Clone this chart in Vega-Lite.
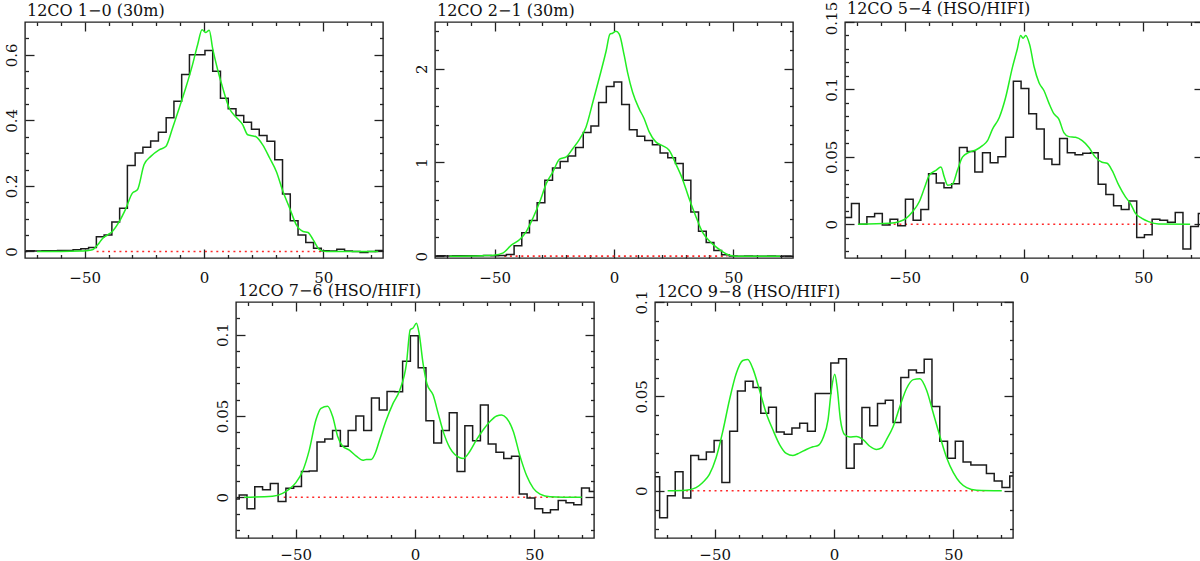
{
"$schema": "https://vega.github.io/schema/vega-lite/v6.json",
"padding": {"left": 3, "top": 0, "right": 0, "bottom": 0},
"config": {
  "view": {"stroke": "#222", "strokeWidth": 1.4},
  "axis": {"labelFont": "DejaVu Serif", "labelFontSize": 15, "labelColor": "#111", "tickColor": "#222", "tickWidth": 1.3, "domain": false, "grid": false, "labelFlush": false, "labelOverlap": false},
  "title": {"font": "DejaVu Serif", "fontSize": 16, "fontWeight": "normal", "color": "#111", "anchor": "start", "frame": "group", "baseline": "alphabetic"}
},
"datasets": {
  "zero": [
    {"panel": 1, "from": -45, "to": 49},
    {"panel": 2, "from": -46, "to": 47.5},
    {"panel": 3, "from": -57, "to": 54},
    {"panel": 4, "from": -55, "to": 69},
    {"panel": 5, "from": -62, "to": 64}
  ],
  "hist": [
    {"panel":1,"v":-75.975,"t":0.0},{"panel":1,"v":-72.725,"t":0.002},{"panel":1,"v":-69.475,"t":0.001},{"panel":1,"v":-66.225,"t":0.002},{"panel":1,"v":-62.975,"t":0.002},{"panel":1,"v":-59.725,"t":0.003},{"panel":1,"v":-56.475,"t":0.003},{"panel":1,"v":-53.225,"t":0.005},{"panel":1,"v":-49.975,"t":0.008},{"panel":1,"v":-46.725,"t":0.012},{"panel":1,"v":-43.475,"t":0.045},{"panel":1,"v":-40.225,"t":0.05},{"panel":1,"v":-36.975,"t":0.09},{"panel":1,"v":-33.725,"t":0.132},{"panel":1,"v":-30.475,"t":0.262},{"panel":1,"v":-27.225,"t":0.3},{"panel":1,"v":-23.975,"t":0.318},{"panel":1,"v":-20.725,"t":0.337},{"panel":1,"v":-17.475,"t":0.364},{"panel":1,"v":-14.225,"t":0.408},{"panel":1,"v":-10.975,"t":0.458},{"panel":1,"v":-7.725,"t":0.54},{"panel":1,"v":-4.475,"t":0.6},{"panel":1,"v":-1.225,"t":0.6},{"panel":1,"v":2.025,"t":0.613},{"panel":1,"v":5.275,"t":0.55},{"panel":1,"v":8.525,"t":0.467},{"panel":1,"v":11.775,"t":0.435},{"panel":1,"v":15.025,"t":0.415},{"panel":1,"v":18.275,"t":0.394},{"panel":1,"v":21.525,"t":0.373},{"panel":1,"v":24.775,"t":0.354},{"panel":1,"v":28.025,"t":0.336},{"panel":1,"v":31.275,"t":0.28},{"panel":1,"v":34.525,"t":0.175},{"panel":1,"v":37.775,"t":0.094},{"panel":1,"v":41.025,"t":0.05},{"panel":1,"v":44.275,"t":0.027},{"panel":1,"v":47.525,"t":0.01},{"panel":1,"v":50.775,"t":0.002},{"panel":1,"v":54.025,"t":0.001},{"panel":1,"v":57.275,"t":0.007},{"panel":1,"v":60.525,"t":0.001},{"panel":1,"v":63.775,"t":0.0},{"panel":1,"v":67.025,"t":-0.003},{"panel":1,"v":70.275,"t":0.0},{"panel":1,"v":73.525,"t":0.003},{"panel":1,"v":76.775,"t":0.003},

    {"panel":2,"v":-75.67,"t":0.002},{"panel":2,"v":-72.45,"t":0.003},{"panel":2,"v":-69.23,"t":0.002},{"panel":2,"v":-66.01,"t":0.004},{"panel":2,"v":-62.79,"t":0.003},{"panel":2,"v":-59.57,"t":0.005},{"panel":2,"v":-56.35,"t":0.004},{"panel":2,"v":-53.13,"t":0.006},{"panel":2,"v":-49.91,"t":0.005},{"panel":2,"v":-46.69,"t":0.006},{"panel":2,"v":-43.47,"t":0.018},{"panel":2,"v":-40.25,"t":0.11},{"panel":2,"v":-37.03,"t":0.25},{"panel":2,"v":-33.81,"t":0.38},{"panel":2,"v":-30.59,"t":0.57},{"panel":2,"v":-27.37,"t":0.81},{"panel":2,"v":-24.15,"t":0.94},{"panel":2,"v":-20.93,"t":1.01},{"panel":2,"v":-17.71,"t":1.07},{"panel":2,"v":-14.49,"t":1.16},{"panel":2,"v":-11.27,"t":1.32},{"panel":2,"v":-8.05,"t":1.39},{"panel":2,"v":-4.83,"t":1.64},{"panel":2,"v":-1.61,"t":1.81},{"panel":2,"v":1.61,"t":1.86},{"panel":2,"v":4.83,"t":1.62},{"panel":2,"v":8.05,"t":1.35},{"panel":2,"v":11.27,"t":1.28},{"panel":2,"v":14.49,"t":1.235},{"panel":2,"v":17.71,"t":1.19},{"panel":2,"v":20.93,"t":1.1},{"panel":2,"v":24.15,"t":1.05},{"panel":2,"v":27.37,"t":0.99},{"panel":2,"v":30.59,"t":0.81},{"panel":2,"v":33.81,"t":0.47},{"panel":2,"v":37.03,"t":0.265},{"panel":2,"v":40.25,"t":0.145},{"panel":2,"v":43.47,"t":0.06},{"panel":2,"v":46.69,"t":0.014},{"panel":2,"v":49.91,"t":0.002},{"panel":2,"v":53.13,"t":0.0},{"panel":2,"v":56.35,"t":0.001},{"panel":2,"v":59.57,"t":0.0},{"panel":2,"v":62.79,"t":0.0},{"panel":2,"v":66.01,"t":0.002},{"panel":2,"v":69.23,"t":0.0},{"panel":2,"v":72.45,"t":0.001},{"panel":2,"v":75.67,"t":0.0},

    {"panel":3,"v":-77.13,"t":0.005},{"panel":3,"v":-73.9,"t":0.005},{"panel":3,"v":-70.67,"t":0.0155},{"panel":3,"v":-67.44,"t":0.0},{"panel":3,"v":-64.21,"t":0.0056},{"panel":3,"v":-60.98,"t":0.008},{"panel":3,"v":-57.75,"t":-0.0005},{"panel":3,"v":-54.52,"t":0.0037},{"panel":3,"v":-51.29,"t":-0.001},{"panel":3,"v":-48.06,"t":0.0186},{"panel":3,"v":-44.83,"t":0.003},{"panel":3,"v":-41.6,"t":0.011},{"panel":3,"v":-38.37,"t":0.0375},{"panel":3,"v":-35.14,"t":0.0306},{"panel":3,"v":-31.91,"t":0.027},{"panel":3,"v":-28.68,"t":0.03},{"panel":3,"v":-25.45,"t":0.057},{"panel":3,"v":-22.22,"t":0.054},{"panel":3,"v":-18.99,"t":0.0387},{"panel":3,"v":-15.76,"t":0.053},{"panel":3,"v":-12.53,"t":0.0456},{"panel":3,"v":-9.3,"t":0.05},{"panel":3,"v":-6.07,"t":0.0645},{"panel":3,"v":-2.84,"t":0.106},{"panel":3,"v":0.39,"t":0.1007},{"panel":3,"v":3.62,"t":0.082},{"panel":3,"v":6.85,"t":0.0706},{"panel":3,"v":10.08,"t":0.0485},{"panel":3,"v":13.31,"t":0.0444},{"panel":3,"v":16.54,"t":0.0637},{"panel":3,"v":19.77,"t":0.053},{"panel":3,"v":23.0,"t":0.0515},{"panel":3,"v":26.23,"t":0.0527},{"panel":3,"v":29.46,"t":0.053},{"panel":3,"v":32.69,"t":0.0297},{"panel":3,"v":35.92,"t":0.022},{"panel":3,"v":39.15,"t":0.0137},{"panel":3,"v":42.38,"t":0.011},{"panel":3,"v":45.61,"t":0.0172},{"panel":3,"v":48.84,"t":-0.0098},{"panel":3,"v":52.07,"t":-0.0078},{"panel":3,"v":55.3,"t":0.0037},{"panel":3,"v":58.53,"t":0.003},{"panel":3,"v":61.76,"t":0.0015},{"panel":3,"v":64.99,"t":0.0088},{"panel":3,"v":68.22,"t":-0.0184},{"panel":3,"v":71.45,"t":-0.0017},{"panel":3,"v":74.68,"t":0.008},{"panel":3,"v":77.91,"t":0.008},

    {"panel":4,"v":-75.28,"t":-0.001},{"panel":4,"v":-72.02,"t":0.0014},{"panel":4,"v":-68.76,"t":-0.007},{"panel":4,"v":-65.5,"t":0.0065},{"panel":4,"v":-62.24,"t":0.0047},{"panel":4,"v":-58.98,"t":0.0085},{"panel":4,"v":-55.72,"t":-0.0026},{"panel":4,"v":-52.46,"t":0.0055},{"panel":4,"v":-49.2,"t":0.0067},{"panel":4,"v":-45.94,"t":0.0158},{"panel":4,"v":-42.68,"t":0.0162},{"panel":4,"v":-39.42,"t":0.034},{"panel":4,"v":-36.16,"t":0.0358},{"panel":4,"v":-32.9,"t":0.041},{"panel":4,"v":-29.64,"t":0.0314},{"panel":4,"v":-26.38,"t":0.041},{"panel":4,"v":-23.12,"t":0.05},{"panel":4,"v":-19.86,"t":0.041},{"panel":4,"v":-16.6,"t":0.061},{"panel":4,"v":-13.34,"t":0.0536},{"panel":4,"v":-10.08,"t":0.065},{"panel":4,"v":-6.82,"t":0.0648},{"panel":4,"v":-3.56,"t":0.0836},{"panel":4,"v":-0.3,"t":0.0992},{"panel":4,"v":2.96,"t":0.0796},{"panel":4,"v":6.22,"t":0.047},{"panel":4,"v":9.48,"t":0.0334},{"panel":4,"v":12.74,"t":0.041},{"panel":4,"v":16.0,"t":0.052},{"panel":4,"v":19.26,"t":0.0158},{"panel":4,"v":22.52,"t":0.044},{"panel":4,"v":25.78,"t":0.0348},{"panel":4,"v":29.04,"t":0.0567},{"panel":4,"v":32.3,"t":0.0328},{"panel":4,"v":35.56,"t":0.0277},{"panel":4,"v":38.82,"t":0.0239},{"panel":4,"v":42.08,"t":0.0253},{"panel":4,"v":45.34,"t":0.002},{"panel":4,"v":48.6,"t":-0.0004},{"panel":4,"v":51.86,"t":-0.007},{"panel":4,"v":55.12,"t":-0.0095},{"panel":4,"v":58.38,"t":-0.0077},{"panel":4,"v":61.64,"t":-0.002},{"panel":4,"v":64.9,"t":-0.0034},{"panel":4,"v":68.16,"t":-0.0045},{"panel":4,"v":71.42,"t":0.0057},{"panel":4,"v":74.68,"t":0.0036},{"panel":4,"v":77.94,"t":0.0036},

    {"panel":5,"v":-77.94,"t":0.0075},{"panel":5,"v":-74.68,"t":0.0075},{"panel":5,"v":-71.42,"t":-0.0143},{"panel":5,"v":-68.16,"t":-0.0026},{"panel":5,"v":-64.9,"t":0.0101},{"panel":5,"v":-61.64,"t":-0.0038},{"panel":5,"v":-58.38,"t":0.0187},{"panel":5,"v":-55.12,"t":0.0166},{"panel":5,"v":-51.86,"t":0.0205},{"panel":5,"v":-48.6,"t":0.0267},{"panel":5,"v":-45.34,"t":0.0044},{"panel":5,"v":-42.08,"t":0.0315},{"panel":5,"v":-38.82,"t":0.0528},{"panel":5,"v":-35.56,"t":0.058},{"panel":5,"v":-32.3,"t":0.0547},{"panel":5,"v":-29.04,"t":0.0411},{"panel":5,"v":-25.78,"t":0.0442},{"panel":5,"v":-22.52,"t":0.0311},{"panel":5,"v":-19.26,"t":0.03},{"panel":5,"v":-16.0,"t":0.0332},{"panel":5,"v":-12.74,"t":0.0358},{"panel":5,"v":-9.48,"t":0.0315},{"panel":5,"v":-6.22,"t":0.0516},{"panel":5,"v":-2.96,"t":0.0516},{"panel":5,"v":0.3,"t":0.0677},{"panel":5,"v":3.56,"t":0.07},{"panel":5,"v":6.82,"t":0.0119},{"panel":5,"v":10.08,"t":0.0248},{"panel":5,"v":13.34,"t":0.0441},{"panel":5,"v":16.6,"t":0.0344},{"panel":5,"v":19.86,"t":0.0463},{"panel":5,"v":23.12,"t":0.048},{"panel":5,"v":26.38,"t":0.0362},{"panel":5,"v":29.64,"t":0.06},{"panel":5,"v":32.9,"t":0.064},{"panel":5,"v":36.16,"t":0.0625},{"panel":5,"v":39.42,"t":0.0697},{"panel":5,"v":42.68,"t":0.0446},{"panel":5,"v":45.94,"t":0.0263},{"panel":5,"v":49.2,"t":0.0172},{"panel":5,"v":52.46,"t":0.0263},{"panel":5,"v":55.72,"t":0.0152},{"panel":5,"v":58.98,"t":0.0137},{"panel":5,"v":62.24,"t":0.0137},{"panel":5,"v":65.5,"t":0.0091},{"panel":5,"v":68.76,"t":0.0052},{"panel":5,"v":72.02,"t":0.0017},{"panel":5,"v":75.28,"t":0.0079}
  ],
  "model": [
    {"panel":1,"v":-70,"t":0},{"panel":1,"v":-60,"t":0},{"panel":1,"v":-52,"t":0.001},{"panel":1,"v":-49.6,"t":0.002},{"panel":1,"v":-46.8,"t":0.005},{"panel":1,"v":-44,"t":0.025},{"panel":1,"v":-42.6,"t":0.039},{"panel":1,"v":-40.5,"t":0.05},{"panel":1,"v":-38.4,"t":0.061},{"panel":1,"v":-35.6,"t":0.09},{"panel":1,"v":-32.8,"t":0.13},{"panel":1,"v":-30,"t":0.178},{"panel":1,"v":-27.9,"t":0.188},{"panel":1,"v":-25.1,"t":0.265},{"panel":1,"v":-22.3,"t":0.29},{"panel":1,"v":-18.8,"t":0.31},{"panel":1,"v":-16,"t":0.32},{"panel":1,"v":-13.2,"t":0.376},{"panel":1,"v":-10.4,"t":0.437},{"panel":1,"v":-7.6,"t":0.5},{"panel":1,"v":-4.8,"t":0.57},{"panel":1,"v":-2.7,"t":0.63},{"panel":1,"v":-0.8,"t":0.676},{"panel":1,"v":0.8,"t":0.668},{"panel":1,"v":2.2,"t":0.675},{"panel":1,"v":3.6,"t":0.62},{"panel":1,"v":5.7,"t":0.555},{"panel":1,"v":7.8,"t":0.5},{"panel":1,"v":10.6,"t":0.437},{"panel":1,"v":13.4,"t":0.41},{"panel":1,"v":16.2,"t":0.387},{"panel":1,"v":18.3,"t":0.356},{"panel":1,"v":21.8,"t":0.35},{"panel":1,"v":24.6,"t":0.325},{"panel":1,"v":27.5,"t":0.285},{"panel":1,"v":30.3,"t":0.244},{"panel":1,"v":33.1,"t":0.183},{"panel":1,"v":35.9,"t":0.132},{"panel":1,"v":38.7,"t":0.081},{"panel":1,"v":41.5,"t":0.061},{"panel":1,"v":43.6,"t":0.058},{"panel":1,"v":45.7,"t":0.036},{"panel":1,"v":48.5,"t":0.005},{"panel":1,"v":51.3,"t":0},{"panel":1,"v":60,"t":0},{"panel":1,"v":73,"t":0},

    {"panel":2,"v":-69,"t":0},{"panel":2,"v":-55,"t":0.005},{"panel":2,"v":-50.5,"t":0.01},{"panel":2,"v":-46.4,"t":0.035},{"panel":2,"v":-42.9,"t":0.12},{"panel":2,"v":-39.4,"t":0.18},{"panel":2,"v":-36.7,"t":0.265},{"panel":2,"v":-33.9,"t":0.41},{"panel":2,"v":-31.1,"t":0.58},{"panel":2,"v":-28.3,"t":0.78},{"panel":2,"v":-25.6,"t":0.9},{"panel":2,"v":-22.8,"t":1.035},{"panel":2,"v":-20,"t":1.06},{"panel":2,"v":-17.2,"t":1.15},{"panel":2,"v":-14.4,"t":1.25},{"panel":2,"v":-11.7,"t":1.38},{"panel":2,"v":-8.9,"t":1.64},{"panel":2,"v":-6.1,"t":1.91},{"panel":2,"v":-3.3,"t":2.19},{"panel":2,"v":-1.7,"t":2.37},{"panel":2,"v":-0.6,"t":2.38},{"panel":2,"v":0.8,"t":2.4},{"panel":2,"v":2.2,"t":2.37},{"panel":2,"v":4.3,"t":2.14},{"panel":2,"v":5.7,"t":1.96},{"panel":2,"v":7.8,"t":1.75},{"panel":2,"v":10.6,"t":1.57},{"panel":2,"v":12.6,"t":1.47},{"panel":2,"v":14.7,"t":1.33},{"panel":2,"v":17.5,"t":1.22},{"panel":2,"v":20.3,"t":1.18},{"panel":2,"v":23.1,"t":1.13},{"panel":2,"v":25.8,"t":0.99},{"panel":2,"v":28.6,"t":0.83},{"panel":2,"v":31.4,"t":0.62},{"panel":2,"v":34.5,"t":0.41},{"panel":2,"v":36.9,"t":0.265},{"panel":2,"v":38.3,"t":0.21},{"panel":2,"v":39.7,"t":0.17},{"panel":2,"v":41.7,"t":0.12},{"panel":2,"v":45.2,"t":0.053},{"panel":2,"v":48.1,"t":0.012},{"panel":2,"v":50.8,"t":0},{"panel":2,"v":60,"t":0},{"panel":2,"v":69.6,"t":0},

    {"panel":3,"v":-69.6,"t":0},{"panel":3,"v":-56.4,"t":0.0007},{"panel":3,"v":-52.2,"t":0.002},{"panel":3,"v":-49.4,"t":0.0044},{"panel":3,"v":-46.7,"t":0.0093},{"panel":3,"v":-43.9,"t":0.0167},{"panel":3,"v":-41.8,"t":0.0265},{"panel":3,"v":-39.7,"t":0.0363},{"panel":3,"v":-36.9,"t":0.04},{"panel":3,"v":-34.8,"t":0.0424},{"panel":3,"v":-33.4,"t":0.035},{"panel":3,"v":-32,"t":0.029},{"panel":3,"v":-29.9,"t":0.03},{"panel":3,"v":-27.9,"t":0.04},{"panel":3,"v":-25.8,"t":0.0498},{"panel":3,"v":-23,"t":0.0534},{"panel":3,"v":-20.2,"t":0.0551},{"panel":3,"v":-17.4,"t":0.0583},{"panel":3,"v":-15.3,"t":0.062},{"panel":3,"v":-13.2,"t":0.0706},{"panel":3,"v":-10.4,"t":0.079},{"panel":3,"v":-7.7,"t":0.094},{"panel":3,"v":-4.9,"t":0.116},{"panel":3,"v":-2.8,"t":0.13},{"panel":3,"v":-1.4,"t":0.14},{"panel":3,"v":-0.4,"t":0.138},{"panel":3,"v":0.7,"t":0.14},{"panel":3,"v":2.4,"t":0.133},{"panel":3,"v":4.2,"t":0.117},{"panel":3,"v":6.3,"t":0.105},{"panel":3,"v":8.4,"t":0.099},{"panel":3,"v":10.4,"t":0.09},{"panel":3,"v":12.5,"t":0.082},{"panel":3,"v":14.6,"t":0.078},{"panel":3,"v":16.7,"t":0.068},{"panel":3,"v":18.8,"t":0.065},{"panel":3,"v":21.6,"t":0.0645},{"panel":3,"v":24.4,"t":0.062},{"panel":3,"v":27.2,"t":0.057},{"panel":3,"v":29.9,"t":0.0498},{"panel":3,"v":32.7,"t":0.046},{"panel":3,"v":34.8,"t":0.0453},{"panel":3,"v":36.9,"t":0.04},{"panel":3,"v":39.7,"t":0.029},{"panel":3,"v":42.5,"t":0.0203},{"panel":3,"v":44.6,"t":0.0154},{"panel":3,"v":46.7,"t":0.0081},{"panel":3,"v":49.4,"t":0.0044},{"panel":3,"v":52.2,"t":0.002},{"panel":3,"v":56.4,"t":0.0002},{"panel":3,"v":69.6,"t":0},

    {"panel":4,"v":-71.6,"t":0},{"panel":4,"v":-59.7,"t":0.0006},{"panel":4,"v":-55.5,"t":0.0024},{"panel":4,"v":-52.7,"t":0.005},{"panel":4,"v":-49.9,"t":0.009},{"panel":4,"v":-47.1,"t":0.016},{"panel":4,"v":-44.3,"t":0.029},{"panel":4,"v":-41.5,"t":0.0476},{"panel":4,"v":-39.4,"t":0.0547},{"panel":4,"v":-36.6,"t":0.056},{"panel":4,"v":-34.5,"t":0.0496},{"panel":4,"v":-32.4,"t":0.0374},{"panel":4,"v":-30.3,"t":0.0314},{"panel":4,"v":-27.5,"t":0.029},{"panel":4,"v":-24.6,"t":0.0253},{"panel":4,"v":-21.8,"t":0.0227},{"panel":4,"v":-20.4,"t":0.0233},{"panel":4,"v":-18.3,"t":0.0233},{"panel":4,"v":-16.9,"t":0.0263},{"panel":4,"v":-14.8,"t":0.0354},{"panel":4,"v":-12,"t":0.0476},{"panel":4,"v":-9.2,"t":0.0577},{"panel":4,"v":-6.4,"t":0.0658},{"panel":4,"v":-3.6,"t":0.082},{"panel":4,"v":-2,"t":0.103},{"panel":4,"v":-0.8,"t":0.104},{"panel":4,"v":0.6,"t":0.107},{"panel":4,"v":1.7,"t":0.101},{"panel":4,"v":3.4,"t":0.082},{"panel":4,"v":5,"t":0.0698},{"panel":4,"v":7.6,"t":0.0628},{"panel":4,"v":9.7,"t":0.0516},{"panel":4,"v":11.8,"t":0.0405},{"panel":4,"v":14.6,"t":0.0304},{"panel":4,"v":16.7,"t":0.0263},{"panel":4,"v":18.8,"t":0.0243},{"panel":4,"v":20.2,"t":0.0239},{"panel":4,"v":23,"t":0.0283},{"panel":4,"v":25.8,"t":0.0354},{"panel":4,"v":28.6,"t":0.0415},{"panel":4,"v":31.4,"t":0.0466},{"panel":4,"v":34.2,"t":0.05},{"panel":4,"v":36.3,"t":0.0506},{"panel":4,"v":38.4,"t":0.0486},{"panel":4,"v":41.2,"t":0.0405},{"panel":4,"v":44,"t":0.0253},{"panel":4,"v":46.8,"t":0.0132},{"panel":4,"v":49.6,"t":0.0055},{"panel":4,"v":52.4,"t":0.002},{"panel":4,"v":56.6,"t":0.0004},{"panel":4,"v":69.9,"t":0},

    {"panel":5,"v":-69.7,"t":0},{"panel":5,"v":-62,"t":0.0003},{"panel":5,"v":-57.8,"t":0.0017},{"panel":5,"v":-55,"t":0.0044},{"panel":5,"v":-52.2,"t":0.0087},{"panel":5,"v":-49.4,"t":0.0175},{"panel":5,"v":-46.6,"t":0.0315},{"panel":5,"v":-43.8,"t":0.0481},{"panel":5,"v":-41,"t":0.062},{"panel":5,"v":-38.2,"t":0.069},{"panel":5,"v":-36.1,"t":0.0696},{"panel":5,"v":-34,"t":0.0647},{"panel":5,"v":-31.2,"t":0.0533},{"panel":5,"v":-28.4,"t":0.0411},{"panel":5,"v":-25.6,"t":0.0323},{"panel":5,"v":-22.8,"t":0.0245},{"panel":5,"v":-20,"t":0.0198},{"panel":5,"v":-17.2,"t":0.0187},{"panel":5,"v":-14.4,"t":0.0201},{"panel":5,"v":-11.6,"t":0.0219},{"panel":5,"v":-8.8,"t":0.0233},{"panel":5,"v":-6.7,"t":0.024},{"panel":5,"v":-4.6,"t":0.028},{"panel":5,"v":-2.5,"t":0.0376},{"panel":5,"v":-1.1,"t":0.0533},{"panel":5,"v":0.3,"t":0.0617},{"panel":5,"v":1.3,"t":0.055},{"panel":5,"v":2.7,"t":0.0376},{"panel":5,"v":4.5,"t":0.0297},{"panel":5,"v":6.6,"t":0.0285},{"panel":5,"v":9.4,"t":0.0288},{"panel":5,"v":12.2,"t":0.0271},{"panel":5,"v":15,"t":0.0236},{"panel":5,"v":17.8,"t":0.0219},{"panel":5,"v":19.9,"t":0.0227},{"panel":5,"v":22,"t":0.0271},{"panel":5,"v":24.8,"t":0.0341},{"panel":5,"v":27.6,"t":0.0446},{"panel":5,"v":30.4,"t":0.0542},{"panel":5,"v":33.2,"t":0.0589},{"panel":5,"v":36,"t":0.0594},{"panel":5,"v":38.8,"t":0.0533},{"panel":5,"v":41.6,"t":0.0411},{"panel":5,"v":44.4,"t":0.0288},{"panel":5,"v":47.2,"t":0.0175},{"panel":5,"v":50,"t":0.0096},{"panel":5,"v":52.8,"t":0.0044},{"panel":5,"v":55.6,"t":0.0017},{"panel":5,"v":59.8,"t":0.0003},{"panel":5,"v":70.3,"t":0}
  ]
},
"spacing": -4,
"vconcat": [
  {"spacing": 28, "hconcat": [
    {"width": 358, "height": 236,
     "title": {"text": "12CO 1−0 (30m)", "offset": 2.5, "dx": 2},
     "resolve": {"axis": {"x": "independent", "y": "independent"}},
     "layer": [
      {"data": {"name": "zero"}, "transform": [{"filter": "datum.panel == 1"}], "mark": {"type": "rule", "color": "#ff2a2a", "strokeWidth": 1.6, "strokeDash": [2, 3.7]},
       "encoding": {"x": {"field": "from", "type": "quantitative", "scale": {"domain": [-75, 75], "nice": false, "zero": false}, "axis": {"orient": "top", "values": [-50, 0, 50], "tickSize": -9, "labels": false, "title": null}}, "x2": {"field": "to"},
                    "y": {"datum": 0, "type": "quantitative", "scale": {"domain": [-0.02, 0.7], "nice": false, "zero": false}, "axis": {"orient": "right", "values": [0, 0.2, 0.4, 0.6], "tickSize": -9, "labels": false, "title": null}}}},
      {"data": {"name": "zero"}, "transform": [{"filter": "datum.panel == 1"}], "mark": {"type": "rule", "opacity": 0},
       "encoding": {"x": {"field": "from", "type": "quantitative", "scale": {"domain": [-75, 75], "nice": false, "zero": false}, "axis": {"orient": "top", "values": [-70, -60, -40, -30, -20, -10, 10, 20, 30, 40, 60, 70], "tickSize": -3.5, "labels": false, "title": null}}, "x2": {"field": "to"},
                    "y": {"datum": 0, "type": "quantitative", "scale": {"domain": [-0.02, 0.7], "nice": false, "zero": false}, "axis": {"orient": "right", "values": [0.05, 0.1, 0.15, 0.25, 0.3, 0.35, 0.45, 0.5, 0.55, 0.65], "tickSize": -3.5, "labels": false, "title": null}}}},
      {"data": {"name": "hist"}, "transform": [{"filter": "datum.panel == 1"}], "mark": {"type": "line", "interpolate": "step", "color": "#1c1c1c", "strokeWidth": 1.5, "clip": true},
       "encoding": {"x": {"field": "v", "type": "quantitative", "scale": {"domain": [-75, 75], "nice": false, "zero": false}, "axis": {"orient": "bottom", "values": [-50, 0, 50], "tickSize": -9, "labelPadding": 21, "labelExpr": "format(datum.value, '~r')", "title": null}},
                    "y": {"field": "t", "type": "quantitative", "scale": {"domain": [-0.02, 0.7], "nice": false, "zero": false}, "axis": {"orient": "left", "values": [0, 0.2, 0.4, 0.6], "tickSize": -9, "labelPadding": 18, "labelAngle": 270, "labelAlign": "center", "labelBaseline": "alphabetic", "labelExpr": "format(datum.value, '~r')", "title": null}}}},
      {"data": {"name": "model"}, "transform": [{"filter": "datum.panel == 1"}], "mark": {"type": "line", "interpolate": "monotone", "color": "#22ee22", "strokeWidth": 1.5, "clip": true},
       "encoding": {"x": {"field": "v", "type": "quantitative", "scale": {"domain": [-75, 75], "nice": false, "zero": false}, "axis": {"orient": "bottom", "values": [-70, -60, -40, -30, -20, -10, 10, 20, 30, 40, 60, 70], "tickSize": -3.5, "labels": false, "title": null}},
                    "y": {"field": "t", "type": "quantitative", "scale": {"domain": [-0.02, 0.7], "nice": false, "zero": false}, "axis": {"orient": "left", "values": [0.05, 0.1, 0.15, 0.25, 0.3, 0.35, 0.45, 0.5, 0.55, 0.65], "tickSize": -3.5, "labels": false, "title": null}}}}
     ]},
    {"width": 358, "height": 236,
     "title": {"text": "12CO 2−1 (30m)", "offset": 2.5, "dx": 2},
     "resolve": {"axis": {"x": "independent", "y": "independent"}},
     "layer": [
      {"data": {"name": "zero"}, "transform": [{"filter": "datum.panel == 2"}], "mark": {"type": "rule", "color": "#ff2a2a", "strokeWidth": 1.6, "strokeDash": [2, 3.7]},
       "encoding": {"x": {"field": "from", "type": "quantitative", "scale": {"domain": [-75, 75], "nice": false, "zero": false}, "axis": {"orient": "top", "values": [-50, 0, 50], "tickSize": -9, "labels": false, "title": null}}, "x2": {"field": "to"},
                    "y": {"datum": 0, "type": "quantitative", "scale": {"domain": [-0.02, 2.5], "nice": false, "zero": false}, "axis": {"orient": "right", "values": [0, 1, 2], "tickSize": -9, "labels": false, "title": null}}}},
      {"data": {"name": "zero"}, "transform": [{"filter": "datum.panel == 2"}], "mark": {"type": "rule", "opacity": 0},
       "encoding": {"x": {"field": "from", "type": "quantitative", "scale": {"domain": [-75, 75], "nice": false, "zero": false}, "axis": {"orient": "top", "values": [-70, -60, -40, -30, -20, -10, 10, 20, 30, 40, 60, 70], "tickSize": -3.5, "labels": false, "title": null}}, "x2": {"field": "to"},
                    "y": {"datum": 0, "type": "quantitative", "scale": {"domain": [-0.02, 2.5], "nice": false, "zero": false}, "axis": {"orient": "right", "values": [0.2, 0.4, 0.6, 0.8, 1.2, 1.4, 1.6, 1.8, 2.2, 2.4], "tickSize": -3.5, "labels": false, "title": null}}}},
      {"data": {"name": "hist"}, "transform": [{"filter": "datum.panel == 2"}], "mark": {"type": "line", "interpolate": "step", "color": "#1c1c1c", "strokeWidth": 1.5, "clip": true},
       "encoding": {"x": {"field": "v", "type": "quantitative", "scale": {"domain": [-75, 75], "nice": false, "zero": false}, "axis": {"orient": "bottom", "values": [-50, 0, 50], "tickSize": -9, "labelPadding": 21, "labelExpr": "format(datum.value, '~r')", "title": null}},
                    "y": {"field": "t", "type": "quantitative", "scale": {"domain": [-0.02, 2.5], "nice": false, "zero": false}, "axis": {"orient": "left", "values": [0, 1, 2], "tickSize": -9, "labelPadding": 18, "labelAngle": 270, "labelAlign": "center", "labelBaseline": "alphabetic", "labelExpr": "format(datum.value, '~r')", "title": null}}}},
      {"data": {"name": "model"}, "transform": [{"filter": "datum.panel == 2"}], "mark": {"type": "line", "interpolate": "monotone", "color": "#22ee22", "strokeWidth": 1.5, "clip": true},
       "encoding": {"x": {"field": "v", "type": "quantitative", "scale": {"domain": [-75, 75], "nice": false, "zero": false}, "axis": {"orient": "bottom", "values": [-70, -60, -40, -30, -20, -10, 10, 20, 30, 40, 60, 70], "tickSize": -3.5, "labels": false, "title": null}},
                    "y": {"field": "t", "type": "quantitative", "scale": {"domain": [-0.02, 2.5], "nice": false, "zero": false}, "axis": {"orient": "left", "values": [0.2, 0.4, 0.6, 0.8, 1.2, 1.4, 1.6, 1.8, 2.2, 2.4], "tickSize": -3.5, "labels": false, "title": null}}}}
     ]},
    {"width": 358, "height": 236,
     "title": {"text": "12CO 5−4 (HSO/HIFI)", "offset": -15.5, "dx": 2},
     "resolve": {"axis": {"x": "independent", "y": "independent"}},
     "layer": [
      {"data": {"name": "zero"}, "transform": [{"filter": "datum.panel == 3"}], "mark": {"type": "rule", "color": "#ff2a2a", "strokeWidth": 1.6, "strokeDash": [2, 3.7]},
       "encoding": {"x": {"field": "from", "type": "quantitative", "scale": {"domain": [-75, 75], "nice": false, "zero": false}, "axis": {"orient": "top", "values": [-50, 0, 50], "tickSize": -9, "labels": false, "title": null}}, "x2": {"field": "to"},
                    "y": {"datum": 0, "type": "quantitative", "scale": {"domain": [-0.025, 0.15], "nice": false, "zero": false}, "axis": {"orient": "right", "values": [0, 0.05, 0.1, 0.15], "tickSize": -9, "labels": false, "title": null}}}},
      {"data": {"name": "zero"}, "transform": [{"filter": "datum.panel == 3"}], "mark": {"type": "rule", "opacity": 0},
       "encoding": {"x": {"field": "from", "type": "quantitative", "scale": {"domain": [-75, 75], "nice": false, "zero": false}, "axis": {"orient": "top", "values": [-70, -60, -40, -30, -20, -10, 10, 20, 30, 40, 60, 70], "tickSize": -3.5, "labels": false, "title": null}}, "x2": {"field": "to"},
                    "y": {"datum": 0, "type": "quantitative", "scale": {"domain": [-0.025, 0.15], "nice": false, "zero": false}, "axis": {"orient": "right", "values": [-0.02, -0.01, 0.01, 0.02, 0.03, 0.04, 0.06, 0.07, 0.08, 0.09, 0.11, 0.12, 0.13, 0.14], "tickSize": -3.5, "labels": false, "title": null}}}},
      {"data": {"name": "hist"}, "transform": [{"filter": "datum.panel == 3"}], "mark": {"type": "line", "interpolate": "step", "color": "#1c1c1c", "strokeWidth": 1.5, "clip": true},
       "encoding": {"x": {"field": "v", "type": "quantitative", "scale": {"domain": [-75, 75], "nice": false, "zero": false}, "axis": {"orient": "bottom", "values": [-50, 0, 50], "tickSize": -9, "labelPadding": 21, "labelExpr": "format(datum.value, '~r')", "title": null}},
                    "y": {"field": "t", "type": "quantitative", "scale": {"domain": [-0.025, 0.15], "nice": false, "zero": false}, "axis": {"orient": "left", "values": [0, 0.05, 0.1, 0.15], "tickSize": -9, "labelPadding": 18, "labelAngle": 270, "labelAlign": "center", "labelBaseline": "alphabetic", "labelExpr": "format(datum.value, '~r')", "labelOffset": {"condition": {"test": "datum.value > 0.14", "value": -4}, "value": 0}, "title": null}}}},
      {"data": {"name": "model"}, "transform": [{"filter": "datum.panel == 3"}], "mark": {"type": "line", "interpolate": "monotone", "color": "#22ee22", "strokeWidth": 1.5, "clip": true},
       "encoding": {"x": {"field": "v", "type": "quantitative", "scale": {"domain": [-75, 75], "nice": false, "zero": false}, "axis": {"orient": "bottom", "values": [-70, -60, -40, -30, -20, -10, 10, 20, 30, 40, 60, 70], "tickSize": -3.5, "labels": false, "title": null}},
                    "y": {"field": "t", "type": "quantitative", "scale": {"domain": [-0.025, 0.15], "nice": false, "zero": false}, "axis": {"orient": "left", "values": [-0.02, -0.01, 0.01, 0.02, 0.03, 0.04, 0.06, 0.07, 0.08, 0.09, 0.11, 0.12, 0.13, 0.14], "tickSize": -3.5, "labels": false, "title": null}}}}
     ]}
  ]},
  {"spacing": 37, "hconcat": [
    {"width": 152, "height": 10, "view": {"stroke": null}, "data": {"values": []}, "mark": "point"},
    {"width": 358, "height": 236,
     "title": {"text": "12CO 7−6 (HSO/HIFI)", "offset": 2.5, "dx": 2},
     "resolve": {"axis": {"x": "independent", "y": "independent"}},
     "layer": [
      {"data": {"name": "zero"}, "transform": [{"filter": "datum.panel == 4"}], "mark": {"type": "rule", "color": "#ff2a2a", "strokeWidth": 1.6, "strokeDash": [2, 3.7]},
       "encoding": {"x": {"field": "from", "type": "quantitative", "scale": {"domain": [-75, 75], "nice": false, "zero": false}, "axis": {"orient": "top", "values": [-50, 0, 50], "tickSize": -9, "labels": false, "title": null}}, "x2": {"field": "to"},
                    "y": {"datum": 0, "type": "quantitative", "scale": {"domain": [-0.025, 0.12], "nice": false, "zero": false}, "axis": {"orient": "right", "values": [0, 0.05, 0.1], "tickSize": -9, "labels": false, "title": null}}}},
      {"data": {"name": "zero"}, "transform": [{"filter": "datum.panel == 4"}], "mark": {"type": "rule", "opacity": 0},
       "encoding": {"x": {"field": "from", "type": "quantitative", "scale": {"domain": [-75, 75], "nice": false, "zero": false}, "axis": {"orient": "top", "values": [-70, -60, -40, -30, -20, -10, 10, 20, 30, 40, 60, 70], "tickSize": -3.5, "labels": false, "title": null}}, "x2": {"field": "to"},
                    "y": {"datum": 0, "type": "quantitative", "scale": {"domain": [-0.025, 0.12], "nice": false, "zero": false}, "axis": {"orient": "right", "values": [-0.02, -0.01, 0.01, 0.02, 0.03, 0.04, 0.06, 0.07, 0.08, 0.09, 0.11], "tickSize": -3.5, "labels": false, "title": null}}}},
      {"data": {"name": "hist"}, "transform": [{"filter": "datum.panel == 4"}], "mark": {"type": "line", "interpolate": "step", "color": "#1c1c1c", "strokeWidth": 1.5, "clip": true},
       "encoding": {"x": {"field": "v", "type": "quantitative", "scale": {"domain": [-75, 75], "nice": false, "zero": false}, "axis": {"orient": "bottom", "values": [-50, 0, 50], "tickSize": -9, "labelPadding": 18, "labelExpr": "format(datum.value, '~r')", "title": null}},
                    "y": {"field": "t", "type": "quantitative", "scale": {"domain": [-0.025, 0.12], "nice": false, "zero": false}, "axis": {"orient": "left", "values": [0, 0.05, 0.1], "tickSize": -9, "labelPadding": 18, "labelAngle": 270, "labelAlign": "center", "labelBaseline": "alphabetic", "labelExpr": "format(datum.value, '~r')", "title": null}}}},
      {"data": {"name": "model"}, "transform": [{"filter": "datum.panel == 4"}], "mark": {"type": "line", "interpolate": "monotone", "color": "#22ee22", "strokeWidth": 1.5, "clip": true},
       "encoding": {"x": {"field": "v", "type": "quantitative", "scale": {"domain": [-75, 75], "nice": false, "zero": false}, "axis": {"orient": "bottom", "values": [-70, -60, -40, -30, -20, -10, 10, 20, 30, 40, 60, 70], "tickSize": -3.5, "labels": false, "title": null}},
                    "y": {"field": "t", "type": "quantitative", "scale": {"domain": [-0.025, 0.12], "nice": false, "zero": false}, "axis": {"orient": "left", "values": [-0.02, -0.01, 0.01, 0.02, 0.03, 0.04, 0.06, 0.07, 0.08, 0.09, 0.11], "tickSize": -3.5, "labels": false, "title": null}}}}
     ]},
    {"width": 358, "height": 236,
     "title": {"text": "12CO 9−8 (HSO/HIFI)", "offset": -9.5, "dx": 2},
     "resolve": {"axis": {"x": "independent", "y": "independent"}},
     "layer": [
      {"data": {"name": "zero"}, "transform": [{"filter": "datum.panel == 5"}], "mark": {"type": "rule", "color": "#ff2a2a", "strokeWidth": 1.6, "strokeDash": [2, 3.7]},
       "encoding": {"x": {"field": "from", "type": "quantitative", "scale": {"domain": [-75, 75], "nice": false, "zero": false}, "axis": {"orient": "top", "values": [-50, 0, 50], "tickSize": -9, "labels": false, "title": null}}, "x2": {"field": "to"},
                    "y": {"datum": 0, "type": "quantitative", "scale": {"domain": [-0.025, 0.1], "nice": false, "zero": false}, "axis": {"orient": "right", "values": [0, 0.05, 0.1], "tickSize": -9, "labels": false, "title": null}}}},
      {"data": {"name": "zero"}, "transform": [{"filter": "datum.panel == 5"}], "mark": {"type": "rule", "opacity": 0},
       "encoding": {"x": {"field": "from", "type": "quantitative", "scale": {"domain": [-75, 75], "nice": false, "zero": false}, "axis": {"orient": "top", "values": [-70, -60, -40, -30, -20, -10, 10, 20, 30, 40, 60, 70], "tickSize": -3.5, "labels": false, "title": null}}, "x2": {"field": "to"},
                    "y": {"datum": 0, "type": "quantitative", "scale": {"domain": [-0.025, 0.1], "nice": false, "zero": false}, "axis": {"orient": "right", "values": [-0.02, -0.01, 0.01, 0.02, 0.03, 0.04, 0.06, 0.07, 0.08, 0.09], "tickSize": -3.5, "labels": false, "title": null}}}},
      {"data": {"name": "hist"}, "transform": [{"filter": "datum.panel == 5"}], "mark": {"type": "line", "interpolate": "step", "color": "#1c1c1c", "strokeWidth": 1.5, "clip": true},
       "encoding": {"x": {"field": "v", "type": "quantitative", "scale": {"domain": [-75, 75], "nice": false, "zero": false}, "axis": {"orient": "bottom", "values": [-50, 0, 50], "tickSize": -9, "labelPadding": 18, "labelExpr": "format(datum.value, '~r')", "title": null}},
                    "y": {"field": "t", "type": "quantitative", "scale": {"domain": [-0.025, 0.1], "nice": false, "zero": false}, "axis": {"orient": "left", "values": [0, 0.05, 0.1], "tickSize": -9, "labelPadding": 18, "labelAngle": 270, "labelAlign": "center", "labelBaseline": "alphabetic", "labelExpr": "format(datum.value, '~r')", "title": null}}}},
      {"data": {"name": "model"}, "transform": [{"filter": "datum.panel == 5"}], "mark": {"type": "line", "interpolate": "monotone", "color": "#22ee22", "strokeWidth": 1.5, "clip": true},
       "encoding": {"x": {"field": "v", "type": "quantitative", "scale": {"domain": [-75, 75], "nice": false, "zero": false}, "axis": {"orient": "bottom", "values": [-70, -60, -40, -30, -20, -10, 10, 20, 30, 40, 60, 70], "tickSize": -3.5, "labels": false, "title": null}},
                    "y": {"field": "t", "type": "quantitative", "scale": {"domain": [-0.025, 0.1], "nice": false, "zero": false}, "axis": {"orient": "left", "values": [-0.02, -0.01, 0.01, 0.02, 0.03, 0.04, 0.06, 0.07, 0.08, 0.09], "tickSize": -3.5, "labels": false, "title": null}}}}
     ]}
  ]}
]
}
